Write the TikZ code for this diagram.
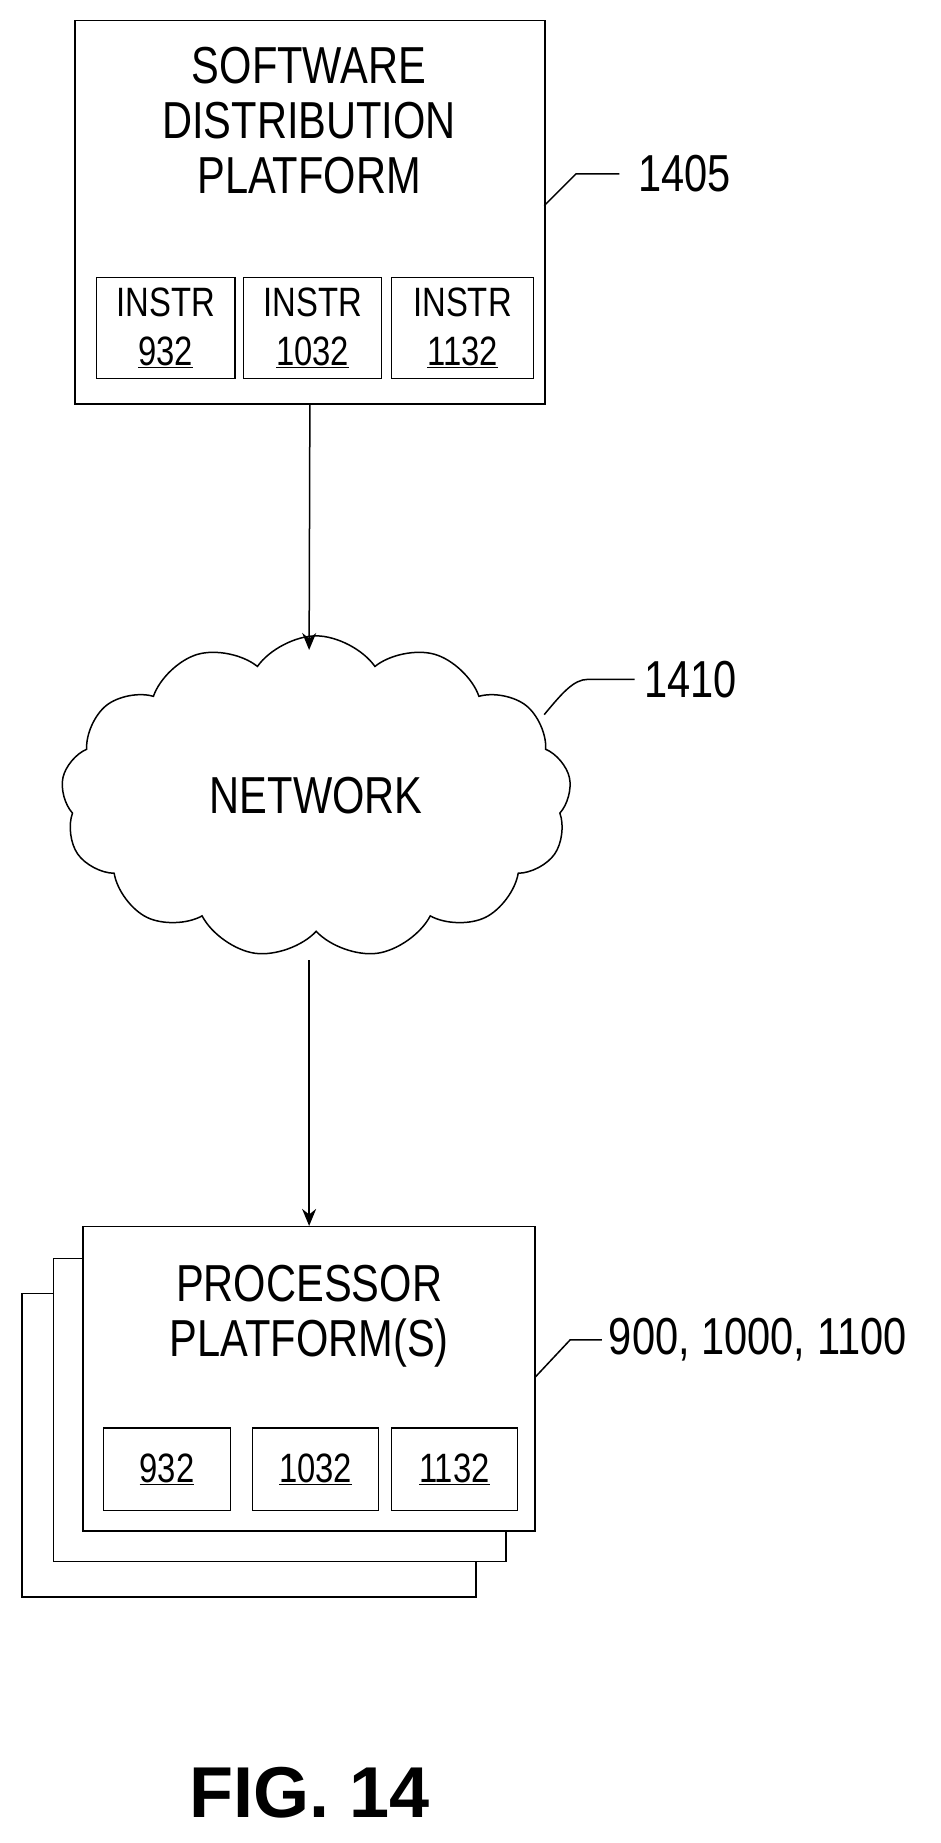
\documentclass[tikz,border=0pt]{standalone}
\usepackage{fontspec}
\setmainfont{Liberation Sans}[FakeStretch=0.8]
\newfontfamily\figfont{Liberation Sans}
\usetikzlibrary{shapes.symbols,arrows.meta}
\begin{document}
\begin{tikzpicture}[x=1.175pt,y=-1.175pt,
  box/.style={draw,line width=1.5pt,fill=white},
  big/.style={font=\fontsize{52}{55}\selectfont,align=center},
  small/.style={font=\fontsize{41}{49}\selectfont,align=center},
  lead/.style={line width=1.5pt},
  arr/.style={line width=1.5pt,-{Stealth[length=17pt,width=14pt]}}]
\useasboundingbox[fill=white] (0,0) rectangle (800,1568);
% top box
\node[box,minimum width=470pt,minimum height=383pt,anchor=north west] (sdp) at (63,17) {};
\node[big] (sdpt) at (263,103) {SOFTWARE\\DISTRIBUTION\\PLATFORM};
\node[box,minimum width=138pt,minimum height=101pt] (i1) at (141,279) {};
\node[box,minimum width=138pt,minimum height=101pt] (i2) at (266,279) {};
\node[box,minimum width=142pt,minimum height=101pt] (i3) at (393.5,279) {};
\node[small] (i1t) at (141,279) {INSTR\\\underline{932}};
\node[small] (i2t) at (266,279) {INSTR\\\underline{1032}};
\node[small] (i3t) at (393.5,279) {INSTR\\\underline{1132}};
\coordinate (l1a) at (463,175);
\coordinate (l1b) at (490,148);
\coordinate (l1c) at (527,148);
\draw[lead] (l1a) -- (l1b) -- (l1c);
\node[big,anchor=west] (t1405) at (540,148) {1405};
% cloud
\node[cloud,draw,line width=1.5pt,cloud puffs=13,cloud puff arc=110,aspect=1.7,minimum width=510pt,minimum height=322pt,inner sep=0pt] (net) at (269,678) {};
\node[big] (nett) at (269,677) {NETWORK};
\draw[arr] (sdp.south) -- (263,553);
\coordinate (l2a) at (463,608);
\coordinate (l2b) at (500,578);
\coordinate (l2c) at (540,578);
\draw[lead] (l2a) .. controls (478,590) and (488,578) .. (l2b) -- (l2c);
\node[big,anchor=west] (t1410) at (545,578) {1410};
% processor platforms
\node[box,minimum width=454pt,minimum height=303pt,anchor=north west] (pp3) at (18,1100) {};
\node[box,minimum width=452pt,minimum height=303pt,anchor=north west] (pp2) at (45,1070) {};
\node[box,minimum width=452pt,minimum height=304pt,anchor=north west] (pp1) at (70,1043) {};
\draw[arr] (263,817) -- (pp1.north -| 263,0);
\node[big] (ppt) at (263,1120) {PROCESSOR\\PLATFORM(S)};
\node[box,minimum width=127pt,minimum height=82pt] (p1) at (142,1250) {};
\node[box,minimum width=126pt,minimum height=82pt] (p2) at (268.5,1250) {};
\node[box,minimum width=126pt,minimum height=82pt] (p3) at (386.5,1250) {};
\node[small] (p1t) at (142,1250) {\underline{932}};
\node[small] (p2t) at (268.5,1250) {\underline{1032}};
\node[small] (p3t) at (386.5,1250) {\underline{1132}};
\coordinate (l3a) at (455,1172);
\coordinate (l3b) at (485,1140);
\coordinate (l3c) at (512,1140);
\draw[lead] (l3a) -- (l3b) -- (l3c);
\node[big,anchor=west] (t900) at (515,1140) {900, 1000, 1100};
\node[font=\figfont\bfseries\fontsize{72}{76}\selectfont] (fig) at (263,1525) {FIG. 14};
\end{tikzpicture}
\end{document}
